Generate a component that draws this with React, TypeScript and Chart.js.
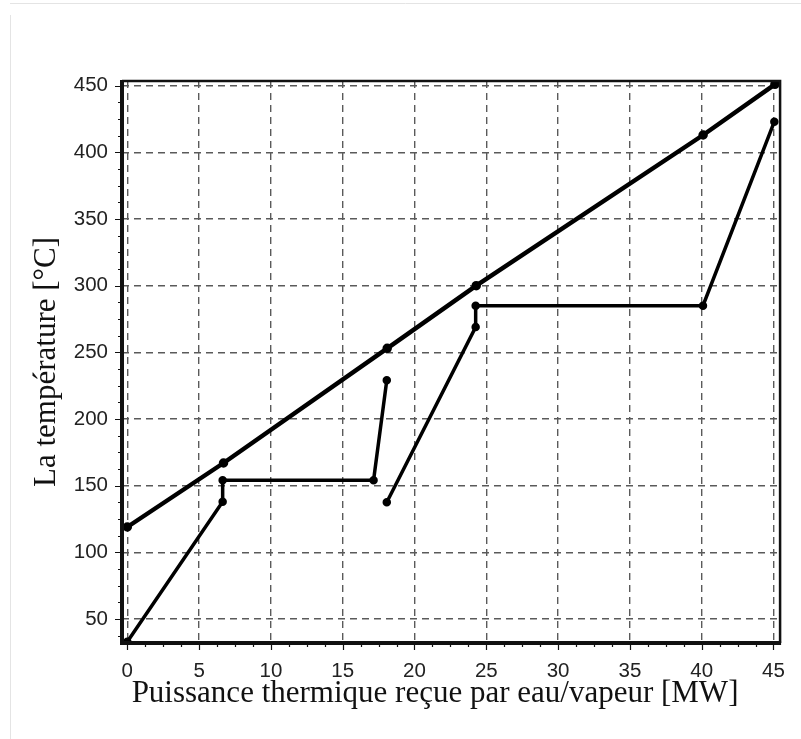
import React, { useEffect, useRef } from "react";
import { Chart, registerables } from "chart.js";

Chart.register(...registerables);

// Flue-gas line (hot side)
const gasQ = [0, 6.7, 18.1, 24.3, 40.1, 45.1];
const gasT = [119, 167, 253, 300, 413, 451];
// Water/steam, first section
const lowQ = [0, 6.64, 6.64, 17.15, 18.07];
const lowT = [33, 138, 154, 154, 229];
// Water/steam, second section
const highQ = [18.07, 24.26, 24.26, 40.09, 45.06];
const highT = [137.5, 269, 285, 285, 423];

const xTicks = [0, 5, 10, 15, 20, 25, 30, 35, 40, 45];
const yTicks = [50, 100, 150, 200, 250, 300, 350, 400, 450];
const xMinorStep = 1.25;
const yMinorStep = 12.5;

const xTitle = "Puissance thermique reçue par eau/vapeur [MW]";
const yTitle = "La température [°C]";

const toPoints = (qs: number[], ts: number[]) => qs.map((q, i) => ({ x: q, y: ts[i] }));

const framePlugin = {
  id: "frameTicks",
  beforeDraw(chart: any) {
    const ctx = chart.ctx;
    ctx.save();
    ctx.strokeStyle = "#e4e4e4";
    ctx.lineWidth = 1;
    ctx.beginPath();
    ctx.moveTo(10, 3.5);
    ctx.lineTo(801, 3.5);
    ctx.moveTo(10.5, 15);
    ctx.lineTo(10.5, 739);
    ctx.stroke();
    ctx.restore();
  },
  afterDraw(chart: any) {
    const { ctx, chartArea } = chart;
    const { left, right, top, bottom } = chartArea;
    const xs = chart.scales.x;
    const ys = chart.scales.y;
    ctx.save();
    ctx.strokeStyle = "#111";
    ctx.lineWidth = 1.2;
    ctx.beginPath();
    for (let v = xTicks[0]; v <= xTicks[xTicks.length - 1] + 1e-6; v += xMinorStep) {
      const px = Math.round(xs.getPixelForValue(v)) + 0.5;
      const major = Math.abs(v / 5 - Math.round(v / 5)) < 1e-6;
      ctx.moveTo(px, bottom);
      ctx.lineTo(px, bottom + (major ? 7 : 4));
    }
    for (let v = yTicks[yTicks.length - 1]; v >= ys.min; v -= yMinorStep) {
      const py = Math.round(ys.getPixelForValue(v)) + 0.5;
      const major = Math.abs(v / 50 - Math.round(v / 50)) < 1e-6;
      ctx.moveTo(left, py);
      ctx.lineTo(left - (major ? 7 : 4), py);
    }
    ctx.stroke();
    ctx.lineWidth = 2.5;
    ctx.beginPath();
    ctx.moveTo(left, top);
    ctx.lineTo(right, top);
    ctx.lineTo(right, bottom);
    ctx.stroke();
    ctx.lineWidth = 4;
    ctx.beginPath();
    ctx.moveTo(left, top - 1);
    ctx.lineTo(left, bottom);
    ctx.lineTo(right + 1, bottom);
    ctx.stroke();
    ctx.restore();
  },
};

export default function App() {
  const ref = useRef<HTMLCanvasElement | null>(null);
  useEffect(() => {
    if (!ref.current) return;
    const lineStyle = {
      borderColor: "#000",
      backgroundColor: "#000",
      pointBackgroundColor: "#000",
      pointBorderColor: "#000",
      pointRadius: 2.5,
      borderWidth: 3.5,
      tension: 0,
      fill: false,
    };
    const grid = {
      color: "#5a5a5a",
      lineWidth: 1.4,
      drawTicks: false,
    };
    const titleFont = { family: "'Liberation Serif', 'Times New Roman', serif", size: 31 };
    const tickFont = { family: "'Liberation Sans', Arial, sans-serif", size: 20.5 };
    const chart = new Chart(ref.current, {
      type: "line",
      data: {
        datasets: [
          { ...lineStyle, borderWidth: 4.5, data: toPoints(gasQ, gasT) },
          { ...lineStyle, data: toPoints(lowQ, lowT) },
          { ...lineStyle, data: toPoints(highQ, highT) },
        ],
      },
      options: {
        animation: false,
        responsive: false,
        maintainAspectRatio: false,
        layout: { padding: { top: 81, right: 12, left: 0, bottom: 0 } },
        plugins: { legend: { display: false }, tooltip: { enabled: false } },
        scales: {
          x: {
            type: "linear",
            min: -0.37,
            max: 45.46,
            afterBuildTicks: (s: any) => {
              s.ticks = xTicks.map((v) => ({ value: v }));
            },
            afterFit: (s: any) => {
              s.height = 96;
              if (!s._titleShifted) {
                s._titleShifted = true;
                const orig = s.drawTitle.bind(s);
                s.drawTitle = function () {
                  const l = this.left;
                  this.left = l - 32;
                  orig();
                  this.left = l;
                };
              }
            },
            grid: { ...grid } as any,
            border: { display: false, dash: [7, 5] },
            ticks: {
              padding: 16,
              color: "#222",
              font: tickFont,
              maxRotation: 0,
              callback: (v: any) => String(v),
            },
            title: {
              display: true,
              text: xTitle,
              color: "#111",
              font: titleFont,
              padding: { top: 0, bottom: 27 },
            },
          },
          y: {
            type: "linear",
            min: 32,
            max: 453.5,
            afterBuildTicks: (s: any) => {
              s.ticks = yTicks.map((v) => ({ value: v }));
            },
            afterFit: (s: any) => {
              s.width = 122;
            },
            grid: grid as any,
            border: { display: false, dash: [7, 5] },
            ticks: {
              padding: 14,
              color: "#222",
              font: tickFont,
              callback: (v: any) => String(v),
            },
            title: {
              display: true,
              text: yTitle,
              color: "#111",
              font: titleFont,
              padding: { top: 28, bottom: 0 },
            },
          },
        },
      },
      plugins: [framePlugin],
    });
    return () => chart.destroy();
  }, []);
  return (
    <div style={{ position: "absolute", left: 0, top: 0, width: 801, height: 739, background: "#fff" }}>
      <canvas ref={ref} width={801} height={739} style={{ display: "block" }} />
    </div>
  );
}
